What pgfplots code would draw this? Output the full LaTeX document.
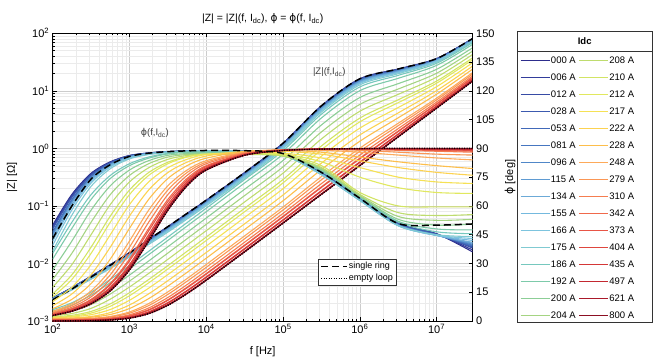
\documentclass[border=0pt]{standalone}
\usepackage{fontspec}
\setmainfont{Liberation Sans}
\newfontfamily\dejavu{DejaVu Sans}
\usepackage{pgfplots}
\pgfplotsset{compat=1.18}
\definecolor{c01}{RGB}{45,45,140}
\definecolor{c02}{RGB}{50,60,155}
\definecolor{c03}{RGB}{55,75,165}
\definecolor{c04}{RGB}{60,90,175}
\definecolor{c05}{RGB}{65,105,185}
\definecolor{c06}{RGB}{70,118,192}
\definecolor{c07}{RGB}{80,135,200}
\definecolor{c08}{RGB}{95,155,210}
\definecolor{c09}{RGB}{108,170,215}
\definecolor{c10}{RGB}{116,185,222}
\definecolor{c11}{RGB}{125,196,222}
\definecolor{c12}{RGB}{128,202,210}
\definecolor{c13}{RGB}{118,200,190}
\definecolor{c14}{RGB}{125,202,170}
\definecolor{c15}{RGB}{140,206,150}
\definecolor{c16}{RGB}{165,212,130}
\definecolor{c17}{RGB}{190,220,110}
\definecolor{c18}{RGB}{210,228,100}
\definecolor{c19}{RGB}{225,232,95}
\definecolor{c20}{RGB}{245,225,85}
\definecolor{c21}{RGB}{252,210,80}
\definecolor{c22}{RGB}{253,190,75}
\definecolor{c23}{RGB}{253,170,90}
\definecolor{c24}{RGB}{250,150,85}
\definecolor{c25}{RGB}{245,125,80}
\definecolor{c26}{RGB}{240,105,75}
\definecolor{c27}{RGB}{232,85,70}
\definecolor{c28}{RGB}{222,70,62}
\definecolor{c29}{RGB}{212,55,55}
\definecolor{c30}{RGB}{195,40,48}
\definecolor{c31}{RGB}{170,25,42}
\definecolor{c32}{RGB}{140,15,35}
\begin{document}
\begin{tikzpicture}
\useasboundingbox (-52.7pt,-41pt) rectangle (600.3pt,321pt);
\begin{axis}[
 at={(0pt,0pt)}, anchor=south west,
 scale only axis, width=420pt, height=287.7pt,
 xmode=log, ymode=log,
 xmin=100, xmax=2.951e7, ymin=1e-3, ymax=100,
 xtick={1e2,1e3,1e4,1e5,1e6,1e7},
 xticklabels={10\textsuperscript{2},10\textsuperscript{3},10\textsuperscript{4},10\textsuperscript{5},10\textsuperscript{6},10\textsuperscript{7}},
 ytick={1e-3,1e-2,1e-1,1,10,100},
 yticklabels={10\textsuperscript{−3},10\textsuperscript{−2},10\textsuperscript{−1},10\textsuperscript{0},10\textsuperscript{1},10\textsuperscript{2}},
 xtick pos=both, ytick pos=left,
 tick align=inside,
 major tick length=4pt, minor tick length=2pt,
 grid=both,
 major grid style={draw=black!20, line width=0.5pt},
 minor grid style={draw=black!8, line width=0.4pt},
 tick label style={font=\fontsize{11}{12}\selectfont},
 xlabel={f [Hz]},
 every axis x label/.style={at={(axis description cs:0.5,-0.108)}, anchor=center, font=\fontsize{11}{12}\selectfont},
 ylabel={|Z| [Ω]},
 every axis y label/.style={at={(axis description cs:-0.097,0.5)}, rotate=90, anchor=center, font=\fontsize{11}{12}\selectfont},
 title={|Z| = |Z|(f, I\textsubscript{dc}), {\dejavu ϕ} = {\dejavu ϕ}(f, I\textsubscript{dc})},
 title style={font=\fontsize{10.5}{12}\selectfont, at={(axis description cs:0.5,1)}, anchor=south, yshift=0pt},
 axis line style={line width=0.8pt},
 every tick/.style={black, line width=0.6pt},
 no markers,
 every axis plot/.append style={line width=1.1pt, smooth},
 legend columns=16, transpose legend,
 legend cell align=left,
 legend image code/.code={\draw[#1, line width=1.4pt] (0pt,0pt) -- (29pt,0pt);},
 legend style={at={(axis description cs:1.1126,0.9229)}, anchor=north west, draw=none, fill=none, inner sep=0pt, outer sep=0pt, row sep=6.8pt, font=\fontsize{9.5}{10}\selectfont, nodes={inner sep=0.6pt, text height=7pt, text depth=2pt}, /tikz/every even column/.append style={column sep=2pt}},
]
\addplot[c01] coordinates {(1e2,2.512e-3)(1.778e2,3.802e-3)(3.162e2,6.026e-3)(5.623e2,9.55e-3)(1e3,1.549e-2)(1.778e3,2.63e-2)(3.162e3,4.365e-2)(5.623e3,7.413e-2)(1e4,0.1259)(3.162e4,0.3802)(1e5,1.230)(3.162e5,5.495)(1e6,16.22)(3.162e6,23.99)(1e7,36.31)(2.951e7,81.28)};
\addlegendentry{000 A}
\addplot[c02] coordinates {(1e2,2.502e-3)(1.778e2,3.783e-3)(3.162e2,5.984e-3)(5.623e2,9.464e-3)(1e3,1.532e-2)(1.778e3,2.598e-2)(3.162e3,4.308e-2)(5.623e3,7.317e-2)(1e4,0.1243)(3.162e4,0.3753)(1e5,1.214)(3.162e5,5.418)(1e6,15.99)(3.162e6,23.73)(1e7,36.02)(2.951e7,80.71)};
\addlegendentry{006 A}
\addplot[c03] coordinates {(1e2,2.497e-3)(1.778e2,3.768e-3)(3.162e2,5.954e-3)(5.623e2,9.407e-3)(1e3,1.521e-2)(1.778e3,2.575e-2)(3.162e3,4.269e-2)(5.623e3,7.25e-2)(1e4,0.1231)(3.162e4,0.3718)(1e5,1.203)(3.162e5,5.358)(1e6,15.83)(3.162e6,23.53)(1e7,35.80)(2.951e7,80.30)};
\addlegendentry{012 A}
\addplot[c04] coordinates {(1e2,2.489e-3)(1.778e2,3.753e-3)(3.162e2,5.918e-3)(5.623e2,9.34e-3)(1e3,1.509e-2)(1.778e3,2.554e-2)(3.162e3,4.230e-2)(5.623e3,7.183e-2)(1e4,0.1220)(3.162e4,0.3684)(1e5,1.192)(3.162e5,5.303)(1e6,15.67)(3.162e6,23.34)(1e7,35.58)(2.951e7,79.90)};
\addlegendentry{028 A}
\addplot[c05] coordinates {(1e2,2.477e-3)(1.778e2,3.726e-3)(3.162e2,5.869e-3)(5.623e2,9.235e-3)(1e3,1.489e-2)(1.778e3,2.514e-2)(3.162e3,4.164e-2)(5.623e3,7.065e-2)(1e4,0.1200)(3.162e4,0.3623)(1e5,1.172)(3.162e5,5.209)(1e6,15.39)(3.162e6,23.03)(1e7,35.26)(2.951e7,79.25)};
\addlegendentry{053 A}
\addplot[c06] coordinates {(1e2,2.467e-3)(1.778e2,3.703e-3)(3.162e2,5.815e-3)(5.623e2,9.139e-3)(1e3,1.470e-2)(1.778e3,2.477e-2)(3.162e3,4.099e-2)(5.623e3,6.953e-2)(1e4,0.1181)(3.162e4,0.3566)(1e5,1.154)(3.162e5,5.121)(1e6,15.13)(3.162e6,22.72)(1e7,34.89)(2.951e7,78.52)};
\addlegendentry{081 A}
\addplot[c07] coordinates {(1e2,2.454e-3)(1.778e2,3.677e-3)(3.162e2,5.761e-3)(5.623e2,9.034e-3)(1e3,1.450e-2)(1.778e3,2.441e-2)(3.162e3,4.033e-2)(5.623e3,6.842e-2)(1e4,0.1162)(3.162e4,0.3513)(1e5,1.135)(3.162e5,5.028)(1e6,14.87)(3.162e6,22.41)(1e7,34.57)(2.951e7,77.87)};
\addlegendentry{096 A}
\addplot[c08] coordinates {(1e2,2.444e-3)(1.778e2,3.654e-3)(3.162e2,5.713e-3)(5.623e2,8.939e-3)(1e3,1.431e-2)(1.778e3,2.406e-2)(3.162e3,3.972e-2)(5.623e3,6.731e-2)(1e4,0.1143)(3.162e4,0.3456)(1e5,1.117)(3.162e5,4.940)(1e6,14.61)(3.162e6,22.12)(1e7,34.20)(2.951e7,77.22)};
\addlegendentry{115 A}
\addplot[c09] coordinates {(1e2,2.422e-3)(1.778e2,3.604e-3)(3.162e2,5.610e-3)(5.623e2,8.738e-3)(1e3,1.394e-2)(1.778e3,2.335e-2)(3.162e3,3.850e-2)(5.623e3,6.523e-2)(1e4,0.1108)(3.162e4,0.3350)(1e5,1.082)(3.162e5,4.770)(1e6,14.11)(3.162e6,21.52)(1e7,33.55)(2.951e7,75.92)};
\addlegendentry{134 A}
\addplot[c10] coordinates {(1e2,2.409e-3)(1.778e2,3.581e-3)(3.162e2,5.562e-3)(5.623e2,8.643e-3)(1e3,1.377e-2)(1.778e3,2.301e-2)(3.162e3,3.789e-2)(5.623e3,6.420e-2)(1e4,0.1090)(3.162e4,0.3296)(1e5,1.065)(3.162e5,4.687)(1e6,13.87)(3.162e6,21.23)(1e7,33.22)(2.951e7,75.27)};
\addlegendentry{155 A}
\addplot[c11] coordinates {(1e2,2.389e-3)(1.778e2,3.532e-3)(3.162e2,5.466e-3)(5.623e2,8.452e-3)(1e3,1.340e-2)(1.778e3,2.233e-2)(3.162e3,3.671e-2)(5.623e3,6.212e-2)(1e4,0.1055)(3.162e4,0.3194)(1e5,1.032)(3.162e5,4.522)(1e6,13.40)(3.162e6,20.66)(1e7,32.57)(2.951e7,74.05)};
\addlegendentry{166 A}
\addplot[c12] coordinates {(1e2,2.356e-3)(1.778e2,3.464e-3)(3.162e2,5.315e-3)(5.623e2,8.175e-3)(1e3,1.289e-2)(1.778e3,2.136e-2)(3.162e3,3.501e-2)(5.623e3,5.923e-2)(1e4,0.1006)(3.162e4,0.3045)(1e5,0.9828)(3.162e5,4.286)(1e6,12.72)(3.162e6,19.84)(1e7,31.63)(2.951e7,72.18)};
\addlegendentry{175 A}
\addplot[c13] coordinates {(1e2,1.578e-3)(1.778e2,2.070e-3)(3.162e2,3.162e-3)(5.623e2,5.284e-3)(1e3,9.204e-3)(1.778e3,1.626e-2)(3.162e3,2.884e-2)(5.623e3,5.129e-2)(1e4,9.12e-2)(3.162e4,0.2884)(1e5,0.912)(3.162e5,3.936)(1e6,11.69)(3.162e6,18.58)(1e7,30.13)(2.951e7,69.18)};
\addlegendentry{186 A}
\addplot[c14] coordinates {(1e2,1.489e-3)(1.778e2,1.892e-3)(3.162e2,2.812e-3)(5.623e2,4.645e-3)(1e3,8.035e-3)(1.778e3,1.419e-2)(3.162e3,2.512e-2)(5.623e3,4.467e-2)(1e4,7.943e-2)(3.162e4,0.2512)(1e5,0.7943)(3.162e5,3.381)(1e6,10.07)(3.162e6,16.52)(1e7,27.67)(2.951e7,64.42)};
\addlegendentry{192 A}
\addplot[c15] coordinates {(1e2,1.377e-3)(1.778e2,1.648e-3)(3.162e2,2.307e-3)(5.623e2,3.681e-3)(1e3,6.281e-3)(1.778e3,1.104e-2)(3.162e3,1.954e-2)(5.623e3,3.467e-2)(1e4,6.166e-2)(3.162e4,0.1950)(1e5,0.6166)(3.162e5,2.553)(1e6,7.656)(3.162e6,13.34)(1e7,23.66)(2.951e7,56.23)};
\addlegendentry{200 A}
\addplot[c16] coordinates {(1e2,1.294e-3)(1.778e2,1.472e-3)(3.162e2,1.932e-3)(5.623e2,2.944e-3)(1e3,4.932e-3)(1.778e3,8.590e-3)(3.162e3,1.517e-2)(5.623e3,2.692e-2)(1e4,4.786e-2)(3.162e4,0.1514)(1e5,0.4786)(3.162e5,1.932)(1e6,5.821)(3.162e6,10.76)(1e7,20.23)(2.951e7,49.20)};
\addlegendentry{204 A}
\addplot[c17] coordinates {(1e2,1.233e-3)(1.778e2,1.349e-3)(3.162e2,1.660e-3)(5.623e2,2.399e-3)(1e3,3.899e-3)(1.778e3,6.714e-3)(3.162e3,1.180e-2)(5.623e3,2.094e-2)(1e4,3.715e-2)(3.162e4,0.1175)(1e5,0.3715)(3.162e5,1.459)(1e6,4.416)(3.162e6,8.690)(1e7,17.30)(2.951e7,42.95)};
\addlegendentry{208 A}
\addplot[c18] coordinates {(1e2,1.183e-3)(1.778e2,1.256e-3)(3.162e2,1.466e-3)(5.623e2,1.986e-3)(1e3,3.105e-3)(1.778e3,5.260e-3)(3.162e3,9.183e-3)(5.623e3,1.626e-2)(1e4,2.884e-2)(3.162e4,9.120e-2)(1e5,0.2884)(3.162e5,1.102)(1e6,3.357)(3.162e6,7.000)(1e7,14.79)(2.951e7,37.58)};
\addlegendentry{210 A}
\addplot[c19] coordinates {(1e2,1.151e-3)(1.778e2,1.208e-3)(3.162e2,1.374e-3)(5.623e2,1.803e-3)(1e3,2.748e-3)(1.778e3,4.603e-3)(3.162e3,8.017e-3)(5.623e3,1.416e-2)(1e4,2.512e-2)(3.162e4,7.943e-2)(1e5,0.2512)(3.162e5,0.9462)(1e6,2.891)(3.162e6,6.237)(1e7,13.58)(2.951e7,34.91)};
\addlegendentry{212 A}
\addplot[c20] coordinates {(1e2,1.140e-3)(1.778e2,1.178e-3)(3.162e2,1.288e-3)(5.623e2,1.585e-3)(1e3,2.291e-3)(1.778e3,3.724e-3)(3.162e3,6.412e-3)(5.623e3,1.127e-2)(1e4,2.000e-2)(3.162e4,6.310e-2)(1e5,0.1995)(3.162e5,0.7328)(1e6,2.249)(3.162e6,5.129)(1e7,11.80)(2.951e7,30.90)};
\addlegendentry{217 A}
\addplot[c21] coordinates {(1e2,1.107e-3)(1.778e2,1.130e-3)(3.162e2,1.199e-3)(5.623e2,1.400e-3)(1e3,1.897e-3)(1.778e3,2.965e-3)(3.162e3,5.023e-3)(5.623e3,8.770e-3)(1e4,1.552e-2)(3.162e4,4.898e-2)(1e5,0.1549)(3.162e5,0.5546)(1e6,1.710)(3.162e6,4.140)(1e7,10.09)(2.951e7,26.98)};
\addlegendentry{222 A}
\addplot[c22] coordinates {(1e2,1.104e-3)(1.778e2,1.117e-3)(3.162e2,1.164e-3)(5.623e2,1.297e-3)(1e3,1.648e-3)(1.778e3,2.449e-3)(3.162e3,4.046e-3)(5.623e3,6.998e-3)(1e4,1.236e-2)(3.162e4,3.890e-2)(1e5,0.1230)(3.162e5,0.4295)(1e6,1.330)(3.162e6,3.404)(1e7,8.750)(2.951e7,23.88)};
\addlegendentry{228 A}
\addplot[c23] coordinates {(1e2,1.076e-3)(1.778e2,1.084e-3)(3.162e2,1.114e-3)(5.623e2,1.199e-3)(1e3,1.435e-3)(1.778e3,2.009e-3)(3.162e3,3.206e-3)(5.623e3,5.470e-3)(1e4,9.616e-3)(3.162e4,3.020e-2)(1e5,9.550e-2)(3.162e5,0.3236)(1e6,1.009)(3.162e6,2.735)(1e7,7.464)(2.951e7,20.84)};
\addlegendentry{248 A}
\addplot[c24] coordinates {(1e2,1.074e-3)(1.778e2,1.081e-3)(3.162e2,1.104e-3)(5.623e2,1.172e-3)(1e3,1.368e-3)(1.778e3,1.854e-3)(3.162e3,2.897e-3)(5.623e3,4.909e-3)(1e4,8.570e-3)(3.162e4,2.692e-2)(1e5,8.511e-2)(3.162e5,0.2844)(1e6,0.8892)(3.162e6,2.483)(1e7,6.950)(2.951e7,19.59)};
\addlegendentry{279 A}
\addplot[c25] coordinates {(1e2,1.050e-3)(1.778e2,1.054e-3)(3.162e2,1.074e-3)(5.623e2,1.127e-3)(1e3,1.282e-3)(1.778e3,1.683e-3)(3.162e3,2.564e-3)(5.623e3,4.295e-3)(1e4,7.482e-3)(3.162e4,2.344e-2)(1e5,7.413e-2)(3.162e5,0.2443)(1e6,0.7656)(3.162e6,2.208)(1e7,6.383)(2.951e7,18.20)};
\addlegendentry{310 A}
\addplot[c26] coordinates {(1e2,1.050e-3)(1.778e2,1.054e-3)(3.162e2,1.067e-3)(5.623e2,1.112e-3)(1e3,1.239e-3)(1.778e3,1.574e-3)(3.162e3,2.339e-3)(5.623e3,3.864e-3)(1e4,6.683e-3)(3.162e4,2.089e-2)(1e5,6.607e-2)(3.162e5,0.2148)(1e6,0.6761)(3.162e6,2.000)(1e7,5.943)(2.951e7,17.14)};
\addlegendentry{342 A}
\addplot[c27] coordinates {(1e2,1.026e-3)(1.778e2,1.030e-3)(3.162e2,1.042e-3)(5.623e2,1.086e-3)(1e3,1.211e-3)(1.778e3,1.538e-3)(3.162e3,2.286e-3)(5.623e3,3.776e-3)(1e4,6.531e-3)(3.162e4,2.042e-2)(1e5,6.457e-2)(3.162e5,0.2099)(1e6,0.6592)(3.162e6,1.963)(1e7,5.861)(2.951e7,16.90)};
\addlegendentry{373 A}
\addplot[c28] coordinates {(1e2,1.026e-3)(1.778e2,1.028e-3)(3.162e2,1.040e-3)(5.623e2,1.074e-3)(1e3,1.175e-3)(1.778e3,1.445e-3)(3.162e3,2.089e-3)(5.623e3,3.396e-3)(1e4,5.848e-3)(3.162e4,1.824e-2)(1e5,5.754e-2)(3.162e5,0.1845)(1e6,0.5821)(3.162e6,1.782)(1e7,5.458)(2.951e7,15.92)};
\addlegendentry{404 A}
\addplot[c29] coordinates {(1e2,1.002e-3)(1.778e2,1.005e-3)(3.162e2,1.016e-3)(5.623e2,1.050e-3)(1e3,1.148e-3)(1.778e3,1.413e-3)(3.162e3,2.042e-3)(5.623e3,3.319e-3)(1e4,5.715e-3)(3.162e4,1.782e-2)(1e5,5.623e-2)(3.162e5,0.1799)(1e6,0.5675)(3.162e6,1.746)(1e7,5.383)(2.951e7,15.74)};
\addlegendentry{435 A}
\addplot[c30] coordinates {(1e2,1.023e-3)(1.778e2,1.028e-3)(3.162e2,1.035e-3)(5.623e2,1.064e-3)(1e3,1.146e-3)(1.778e3,1.371e-3)(3.162e3,1.919e-3)(5.623e3,3.062e-3)(1e4,5.224e-3)(3.162e4,1.629e-2)(1e5,5.129e-2)(3.162e5,0.1626)(1e6,0.5140)(3.162e6,1.614)(1e7,5.082)(2.951e7,14.96)};
\addlegendentry{497 A}
\addplot[c31] coordinates {(1e2,1.010e-3)(1.778e2,1.015e-3)(3.162e2,1.022e-3)(5.623e2,1.050e-3)(1e3,1.130e-3)(1.778e3,1.353e-3)(3.162e3,1.894e-3)(5.623e3,3.022e-3)(1e4,5.156e-3)(3.162e4,1.608e-2)(1e5,5.062e-2)(3.162e5,0.1601)(1e6,0.5062)(3.162e6,1.601)(1e7,5.062)(2.951e7,14.94)};
\addlegendentry{621 A}
\addplot[c32] coordinates {(1e2,1.000e-3)(1.778e2,1.005e-3)(3.162e2,1.012e-3)(5.623e2,1.040e-3)(1e3,1.119e-3)(1.778e3,1.340e-3)(3.162e3,1.875e-3)(5.623e3,2.992e-3)(1e4,5.105e-3)(3.162e4,1.592e-2)(1e5,5.012e-2)(3.162e5,0.1585)(1e6,0.5012)(3.162e6,1.585)(1e7,5.012)(2.951e7,14.79)};
\addlegendentry{800 A}
\addplot[black, line width=1.5pt, dash pattern=on 7pt off 4pt, forget plot] coordinates {(1e2,2.35e-3)(1.778e2,3.60e-3)(3.162e2,5.80e-3)(5.623e2,9.30e-3)(1e3,1.52e-2)(1.778e3,2.60e-2)(3.162e3,4.365e-2)(5.623e3,7.413e-2)(1e4,0.1259)(3.162e4,0.3802)(1e5,1.230)(3.162e5,5.495)(1e6,16.22)(3.162e6,23.99)(1e7,36.31)(2.951e7,81.28)};
\addplot[black, line width=1.4pt, dash pattern=on 0.9pt off 1.6pt, forget plot] coordinates {(1e2,1.000e-3)(1.778e2,1.005e-3)(3.162e2,1.012e-3)(5.623e2,1.040e-3)(1e3,1.119e-3)(1.778e3,1.340e-3)(3.162e3,1.875e-3)(5.623e3,2.992e-3)(1e4,5.105e-3)(3.162e4,1.592e-2)(1e5,5.012e-2)(3.162e5,0.1585)(1e6,0.5012)(3.162e6,1.585)(1e7,5.012)(2.951e7,14.79)};
\node[font=\fontsize{9.5}{10}\selectfont, text=black!75] at (axis cs:2140,1.85) {{\dejavu ϕ}(f,I\textsubscript{dc})};
\node[font=\fontsize{9.5}{10}\selectfont, text=black!75] at (axis cs:4.0e5,21.2) {|Z|(f,I\textsubscript{dc})};
\end{axis}
\begin{axis}[
 at={(0pt,0pt)}, anchor=south west,
 scale only axis, width=420pt, height=287.7pt,
 xmode=log, xmin=100, xmax=2.951e7, ymin=0, ymax=150,
 axis x line=none, axis y line*=right,
 ytick={0,15,...,150},
 tick align=inside, major tick length=4pt,
 axis line style={line width=0.8pt},
 every tick/.style={black, line width=0.6pt},
 yticklabel style={font=\fontsize{11}{12}\selectfont},
 /pgf/number format/assume math mode=true,
 ylabel={{\dejavu ϕ} [deg]},
 every axis y label/.style={at={(axis description cs:1.089,0.5)}, rotate=90, anchor=center, font=\fontsize{11}{12}\selectfont},
 no markers,
 every axis plot/.append style={line width=1.1pt, smooth},
 legend cell align=left,
 legend image code/.code={\draw[#1] (0pt,0pt) -- (26pt,0pt);},
 legend style={at={(axis description cs:0.6317,0.2155)}, anchor=north west, draw=black!80, line width=0.7pt, fill=white, inner sep=2pt, row sep=1.5pt, font=\fontsize{9}{10}\selectfont, nodes={inner sep=1pt, text height=6.5pt, text depth=1.8pt}},
]
\addplot[c01, forget plot] coordinates {(1e2,50)(1.778e2,66)(3.162e2,77)(5.623e2,83)(1e3,86.3)(1.778e3,87.6)(3.162e3,88.3)(5.623e3,88.6)(1e4,88.8)(3.162e4,88.6)(1e5,87.0)(3.162e5,77.5)(1e6,64.5)(3.162e6,51.0)(1e7,45.5)(2.951e7,36.0)};
\addplot[c02, forget plot] coordinates {(1e2,49.3)(1.778e2,65.5)(3.162e2,76.7)(5.623e2,82.8)(1e3,86.2)(1.778e3,87.6)(3.162e3,88.3)(5.623e3,88.6)(1e4,88.8)(3.162e4,88.6)(1e5,87.0)(3.162e5,77.3)(1e6,64.3)(3.162e6,50.8)(1e7,45.4)(2.951e7,37.0)};
\addplot[c03, forget plot] coordinates {(1e2,48.6)(1.778e2,64.9)(3.162e2,76.3)(5.623e2,82.6)(1e3,86.1)(1.778e3,87.5)(3.162e3,88.3)(5.623e3,88.6)(1e4,88.8)(3.162e4,88.6)(1e5,87.0)(3.162e5,77.2)(1e6,64.2)(3.162e6,50.7)(1e7,45.3)(2.951e7,38.0)};
\addplot[c04, forget plot] coordinates {(1e2,47.9)(1.778e2,64.4)(3.162e2,76.0)(5.623e2,82.5)(1e3,86.0)(1.778e3,87.5)(3.162e3,88.2)(5.623e3,88.6)(1e4,88.8)(3.162e4,88.5)(1e5,86.9)(3.162e5,77.0)(1e6,64.0)(3.162e6,50.6)(1e7,45.2)(2.951e7,38.5)};
\addplot[c05, forget plot] coordinates {(1e2,46.5)(1.778e2,63.3)(3.162e2,75.3)(5.623e2,82.1)(1e3,85.9)(1.778e3,87.4)(3.162e3,88.2)(5.623e3,88.6)(1e4,88.8)(3.162e4,88.5)(1e5,86.9)(3.162e5,76.9)(1e6,63.8)(3.162e6,50.4)(1e7,45.0)(2.951e7,39.0)};
\addplot[c06, forget plot] coordinates {(1e2,45.8)(1.778e2,62.8)(3.162e2,75.0)(5.623e2,81.9)(1e3,85.8)(1.778e3,87.4)(3.162e3,88.2)(5.623e3,88.5)(1e4,88.8)(3.162e4,88.5)(1e5,86.8)(3.162e5,76.8)(1e6,63.6)(3.162e6,50.3)(1e7,44.9)(2.951e7,39.5)};
\addplot[c07, forget plot] coordinates {(1e2,45.1)(1.778e2,62.2)(3.162e2,74.6)(5.623e2,81.7)(1e3,85.7)(1.778e3,87.3)(3.162e3,88.2)(5.623e3,88.5)(1e4,88.7)(3.162e4,88.5)(1e5,86.8)(3.162e5,76.6)(1e6,63.4)(3.162e6,50.1)(1e7,44.8)(2.951e7,40.0)};
\addplot[c08, forget plot] coordinates {(1e2,44.4)(1.778e2,61.7)(3.162e2,74.3)(5.623e2,81.6)(1e3,85.6)(1.778e3,87.3)(3.162e3,88.1)(5.623e3,88.5)(1e4,88.7)(3.162e4,88.4)(1e5,86.7)(3.162e5,76.5)(1e6,63.2)(3.162e6,50.0)(1e7,44.7)(2.951e7,40.5)};
\addplot[c09, forget plot] coordinates {(1e2,43.0)(1.778e2,60.6)(3.162e2,73.6)(5.623e2,81.2)(1e3,85.4)(1.778e3,87.2)(3.162e3,88.1)(5.623e3,88.5)(1e4,88.7)(3.162e4,88.4)(1e5,86.7)(3.162e5,76.4)(1e6,63.0)(3.162e6,49.8)(1e7,44.6)(2.951e7,41.0)};
\addplot[c10, forget plot] coordinates {(1e2,41.6)(1.778e2,59.5)(3.162e2,72.9)(5.623e2,80.8)(1e3,85.2)(1.778e3,87.1)(3.162e3,88.1)(5.623e3,88.5)(1e4,88.7)(3.162e4,88.4)(1e5,86.6)(3.162e5,76.3)(1e6,62.9)(3.162e6,49.7)(1e7,44.6)(2.951e7,42.0)};
\addplot[c11, forget plot] coordinates {(1e2,39.5)(1.778e2,57.9)(3.162e2,71.9)(5.623e2,80.3)(1e3,84.9)(1.778e3,87.0)(3.162e3,88.0)(5.623e3,88.4)(1e4,88.6)(3.162e4,88.3)(1e5,86.6)(3.162e5,76.3)(1e6,62.8)(3.162e6,49.6)(1e7,44.7)(2.951e7,43.0)};
\addplot[c12, forget plot] coordinates {(1e2,36.5)(1.778e2,55.2)(3.162e2,70.2)(5.623e2,79.4)(1e3,84.5)(1.778e3,86.8)(3.162e3,87.9)(5.623e3,88.4)(1e4,88.6)(3.162e4,88.3)(1e5,86.5)(3.162e5,76.5)(1e6,63.0)(3.162e6,49.8)(1e7,45.0)(2.951e7,44.0)};
\addplot[c13, forget plot] coordinates {(1e2,35.3)(1.778e2,51.5)(3.162e2,65.9)(5.623e2,75.9)(1e3,82.0)(1.778e3,85.5)(3.162e3,87.4)(5.623e3,88.2)(1e4,88.3)(3.162e4,88.0)(1e5,86.5)(3.162e5,78.0)(1e6,64.5)(3.162e6,51.5)(1e7,46.5)(2.951e7,45.5)};
\addplot[c14, forget plot] coordinates {(1e2,32.3)(1.778e2,48.3)(3.162e2,63.4)(5.623e2,74.3)(1e3,81.0)(1.778e3,84.9)(3.162e3,87.1)(5.623e3,87.9)(1e4,88.0)(3.162e4,87.8)(1e5,86.5)(3.162e5,78.5)(1e6,65.0)(3.162e6,52.0)(1e7,48.0)(2.951e7,47.5)};
\addplot[c15, forget plot] coordinates {(1e2,26.6)(1.778e2,41.7)(3.162e2,57.8)(5.623e2,70.5)(1e3,78.7)(1.778e3,83.6)(3.162e3,86.4)(5.623e3,87.3)(1e4,87.5)(3.162e4,87.3)(1e5,86.0)(3.162e5,79.0)(1e6,65.0)(3.162e6,53.0)(1e7,50.0)(2.951e7,50.5)};
\addplot[c16, forget plot] coordinates {(1e2,21.7)(1.778e2,35.3)(3.162e2,51.5)(5.623e2,65.9)(1e3,75.9)(1.778e3,82.0)(3.162e3,85.5)(5.623e3,86.8)(1e4,87.0)(3.162e4,86.8)(1e5,86.0)(3.162e5,79.5)(1e6,65.5)(3.162e6,54.5)(1e7,52.5)(2.951e7,53.0)};
\addplot[c17, forget plot] coordinates {(1e2,17.6)(1.778e2,29.4)(3.162e2,45.0)(5.623e2,60.7)(1e3,72.5)(1.778e3,79.9)(3.162e3,84.3)(5.623e3,86.3)(1e4,87.0)(3.162e4,87.0)(1e5,86.0)(3.162e5,80.0)(1e6,66.0)(3.162e6,56.5)(1e7,55.0)(2.951e7,55.5)};
\addplot[c18, forget plot] coordinates {(1e2,14.1)(1.778e2,24.1)(3.162e2,38.5)(5.623e2,54.7)(1e3,68.3)(1.778e3,77.4)(3.162e3,82.8)(5.623e3,85.7)(1e4,86.8)(3.162e4,87.0)(1e5,86.5)(3.162e5,81.0)(1e6,67.0)(3.162e6,60.0)(1e7,59.5)(2.951e7,59.5)};
\addplot[c19, forget plot] coordinates {(1e2,12.6)(1.778e2,21.7)(3.162e2,35.3)(5.623e2,51.5)(1e3,65.9)(1.778e3,75.9)(3.162e3,82.0)(5.623e3,85.5)(1e4,87.0)(3.162e4,87.5)(1e5,87.0)(3.162e5,83.0)(1e6,75.0)(3.162e6,69.5)(1e7,67.0)(2.951e7,66.5)};
\addplot[c20, forget plot] coordinates {(1e2,10.1)(1.778e2,17.6)(3.162e2,29.4)(5.623e2,45.0)(1e3,60.7)(1.778e3,72.5)(3.162e3,79.9)(5.623e3,84.3)(1e4,86.8)(3.162e4,88.0)(1e5,87.5)(3.162e5,85.0)(1e6,80.0)(3.162e6,75.0)(1e7,72.5)(2.951e7,71.7)};
\addplot[c21, forget plot] coordinates {(1e2,8.0)(1.778e2,14.1)(3.162e2,24.1)(5.623e2,38.5)(1e3,54.7)(1.778e3,68.3)(3.162e3,77.4)(5.623e3,82.8)(1e4,86.0)(3.162e4,88.5)(1e5,88.5)(3.162e5,87.0)(1e6,83.5)(3.162e6,80.0)(1e7,77.5)(2.951e7,76.0)};
\addplot[c22, forget plot] coordinates {(1e2,6.4)(1.778e2,11.3)(3.162e2,19.5)(5.623e2,32.3)(1e3,48.3)(1.778e3,63.4)(3.162e3,74.3)(5.623e3,81.0)(1e4,84.9)(3.162e4,88.4)(1e5,89.0)(3.162e5,88.0)(1e6,85.5)(3.162e6,83.0)(1e7,81.0)(2.951e7,79.5)};
\addplot[c23, forget plot] coordinates {(1e2,5.1)(1.778e2,9.0)(3.162e2,15.7)(5.623e2,26.6)(1e3,41.7)(1.778e3,57.8)(3.162e3,70.5)(5.623e3,78.7)(1e4,83.6)(3.162e4,88.0)(1e5,89.3)(3.162e5,89.0)(1e6,88.0)(3.162e6,86.5)(1e7,85.0)(2.951e7,84.0)};
\addplot[c24, forget plot] coordinates {(1e2,4.5)(1.778e2,8.0)(3.162e2,14.1)(5.623e2,24.1)(1e3,38.5)(1.778e3,54.7)(3.162e3,68.3)(5.623e3,77.4)(1e4,82.8)(3.162e4,87.7)(1e5,89.3)(3.162e5,89.3)(1e6,89.0)(3.162e6,88.0)(1e7,87.0)(2.951e7,86.5)};
\addplot[c25, forget plot] coordinates {(1e2,4.1)(1.778e2,7.2)(3.162e2,12.6)(5.623e2,21.7)(1e3,35.3)(1.778e3,51.5)(3.162e3,65.9)(5.623e3,75.9)(1e4,82.0)(3.162e4,87.4)(1e5,89.2)(3.162e5,89.5)(1e6,89.5)(3.162e6,89.0)(1e7,88.5)(2.951e7,88.0)};
\addplot[c26, forget plot] coordinates {(1e2,3.6)(1.778e2,6.4)(3.162e2,11.3)(5.623e2,19.5)(1e3,32.3)(1.778e3,48.3)(3.162e3,63.4)(5.623e3,74.3)(1e4,81.0)(3.162e4,87.1)(1e5,89.1)(3.162e5,89.6)(1e6,89.6)(3.162e6,89.3)(1e7,88.9)(2.951e7,88.5)};
\addplot[c27, forget plot] coordinates {(1e2,3.5)(1.778e2,6.2)(3.162e2,10.9)(5.623e2,18.9)(1e3,31.3)(1.778e3,47.0)(3.162e3,62.2)(5.623e3,73.4)(1e4,80.5)(3.162e4,87.0)(1e5,89.1)(3.162e5,89.6)(1e6,89.7)(3.162e6,89.5)(1e7,89.2)(2.951e7,89.0)};
\addplot[c28, forget plot] coordinates {(1e2,3.2)(1.778e2,5.7)(3.162e2,10.1)(5.623e2,17.6)(1e3,29.4)(1.778e3,45.0)(3.162e3,60.7)(5.623e3,72.5)(1e4,79.9)(3.162e4,86.8)(1e5,89.0)(3.162e5,89.7)(1e6,89.8)(3.162e6,89.6)(1e7,89.4)(2.951e7,89.2)};
\addplot[c29, forget plot] coordinates {(1e2,3.1)(1.778e2,5.5)(3.162e2,9.8)(5.623e2,17.0)(1e3,28.5)(1.778e3,43.8)(3.162e3,59.5)(5.623e3,71.7)(1e4,79.5)(3.162e4,86.7)(1e5,89.0)(3.162e5,89.7)(1e6,89.8)(3.162e6,89.7)(1e7,89.5)(2.951e7,89.4)};
\addplot[c30, forget plot] coordinates {(1e2,2.9)(1.778e2,5.1)(3.162e2,9.0)(5.623e2,15.7)(1e3,26.6)(1.778e3,41.7)(3.162e3,57.8)(5.623e3,70.5)(1e4,78.7)(3.162e4,86.4)(1e5,88.9)(3.162e5,89.7)(1e6,89.9)(3.162e6,89.8)(1e7,89.7)(2.951e7,89.6)};
\addplot[c31, forget plot] coordinates {(1e2,2.9)(1.778e2,5.2)(3.162e2,9.2)(5.623e2,16.2)(1e3,27.5)(1.778e3,43.0)(3.162e3,59.0)(5.623e3,71.2)(1e4,79.2)(3.162e4,86.5)(1e5,88.9)(3.162e5,89.7)(1e6,89.9)(3.162e6,89.9)(1e7,89.8)(2.951e7,89.8)};
\addplot[c32, forget plot] coordinates {(1e2,2.9)(1.778e2,5.1)(3.162e2,9.0)(5.623e2,15.7)(1e3,26.6)(1.778e3,41.7)(3.162e3,57.8)(5.623e3,70.5)(1e4,78.7)(3.162e4,86.4)(1e5,88.9)(3.162e5,89.6)(1e6,89.9)(3.162e6,90.0)(1e7,90.0)(2.951e7,90.0)};
\addplot[black, line width=1.5pt, dash pattern=on 7pt off 4pt] coordinates {(1e2,43)(1.778e2,60)(3.162e2,74)(5.623e2,81.5)(1e3,85.8)(1.778e3,87.5)(3.162e3,88.3)(5.623e3,88.7)(1e4,88.9)(3.162e4,88.8)(1e5,87.3)(3.162e5,77.5)(1e6,64.0)(3.162e6,50.8)(1e7,50.0)(2.951e7,50.6)};
\addlegendentry{single ring}
\addplot[black, line width=1.4pt, dash pattern=on 0.9pt off 1.6pt] coordinates {(1e2,2.9)(1.778e2,5.1)(3.162e2,9.0)(5.623e2,15.7)(1e3,26.6)(1.778e3,41.7)(3.162e3,57.8)(5.623e3,70.5)(1e4,78.7)(3.162e4,86.4)(1e5,88.9)(3.162e5,89.6)(1e6,89.9)(3.162e6,90.0)(1e7,90.0)(2.951e7,90.0)};
\addlegendentry{empty loop}
\end{axis}
\draw[line width=0.7pt, black!80] (464.3pt,-1pt) rectangle (599.6pt,290pt);
\draw[line width=0.7pt, black!80] (464.3pt,269.3pt) -- (599.6pt,269.3pt);
\node[font=\bfseries\fontsize{9.5}{10}\selectfont] at (532pt,279.5pt) {Idc};
\end{tikzpicture}
\end{document}
